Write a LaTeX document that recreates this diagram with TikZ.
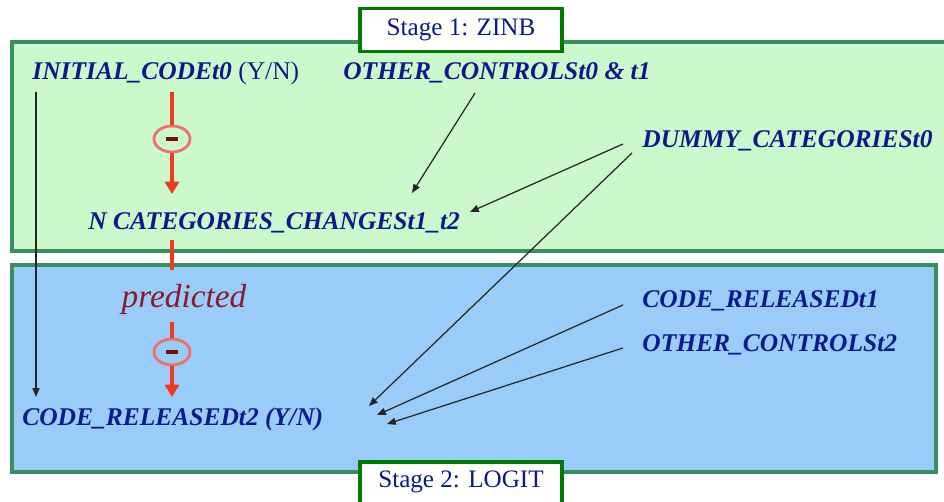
\documentclass[tikz,border=0pt]{standalone}
\usepackage{fontspec}
\setmainfont{Liberation Serif}
\usetikzlibrary{arrows.meta,shapes.geometric,calc}

\definecolor{zinbfill}{HTML}{CCF9CC}
\definecolor{logitfill}{HTML}{99CCF9}
\definecolor{panelframe}{HTML}{3A8F62}
\definecolor{stagegreen}{HTML}{007A00}
\definecolor{varblue}{HTML}{0A1A8C}
\definecolor{effectred}{HTML}{EE3A1E}
\definecolor{signred}{HTML}{F07070}
\definecolor{minusred}{HTML}{7A0A0A}
\definecolor{predred}{HTML}{8B1A2A}

\tikzset{
    varlabel/.style={anchor=base west, inner sep=0pt, text=varblue, font=\fontsize{14.5}{17}\selectfont\bfseries\itshape},
    stagebox/.style={draw=stagegreen, line width=2.2pt, fill=white, text=varblue, minimum width=4.04cm, minimum height=0.86cm, font=\fontsize{14.3}{17}\selectfont},
    panel/.style={line width=2.3pt, draw=panelframe},
    signmark/.style={ellipse, draw=signred, line width=1.6pt, minimum width=0.72cm, minimum height=0.52cm, inner sep=0pt},
    effect/.style={draw=effectred, line width=2.3pt},
    link/.style={draw=black!85, line width=0.7pt, -{Triangle[length=5pt,width=4pt]}},
}

\begin{document}
\begin{tikzpicture}[x=0.02cm, y=-0.02cm]
    \fill[white] (0,0) rectangle (944,502);
    \useasboundingbox (0,0) rectangle (944,502);

    % the two model stages
    \filldraw[panel, fill=zinbfill] (12,42) rectangle (950,251);
    \filldraw[panel, fill=logitfill] (12,265) rectangle (936,472);
    \node[stagebox] (stageone) at (461,30) {Stage 1: ZINB};
    \node[stagebox, anchor=north, text height=0.39cm, text depth=0.5cm] (stagetwo) at (461,460) {Stage 2: LOGIT};

    % variables
    \node[varlabel] (initcode) at (32,80) {INITIAL\_CODEt0 {\mdseries\upshape (Y/N)}};
    \node[varlabel] (othert01) at (343,80) {OTHER\_CONTROLSt0 \& t1};
    \node[varlabel] (dummy) at (642,148) {DUMMY\_CATEGORIESt0};
    \node[varlabel] (ncat) at (88,230) {N CATEGORIES\_CHANGESt1\_t2};
    \node[anchor=base, inner sep=0pt, text=predred, font=\fontsize{19}{22}\selectfont\itshape] (predicted) at (184,308) {predicted};
    \node[varlabel] (crelt1) at (642,308) {CODE\_RELEASEDt1};
    \node[varlabel] (othert2) at (642,352) {OTHER\_CONTROLSt2};
    \node[varlabel] (crelt2) at (22,426) {CODE\_RELEASEDt2 (Y/N)};

    % negative effects
    \node[signmark] (minusA) at (172,139) {\textcolor{minusred}{\rule{6.3pt}{2.8pt}}};
    \node[signmark] (minusB) at (172,352) {\textcolor{minusred}{\rule{6.3pt}{2.8pt}}};
    \coordinate (r1) at (172,92);
    \coordinate (r2) at (172,194);
    \coordinate (r3) at (172,240);
    \coordinate (r4) at (172,270);
    \coordinate (r5) at (172,322);
    \coordinate (r6) at (172,397);
    \draw[effect] (r1) -- (minusA);
    \draw[effect, -{Triangle[length=7pt,width=8pt]}] (minusA) -- (r2);
    \draw[effect] (r3) -- (r4);
    \draw[effect] (r5) -- (minusB);
    \draw[effect, -{Triangle[length=7pt,width=8pt]}] (minusB) -- (r6);

    % covariates
    \coordinate (t0) at (36,397);
    \coordinate (t1) at (412,193);
    \coordinate (t2) at (470,212);
    \coordinate (t3) at (369,406);
    \coordinate (t4) at (377,415);
    \coordinate (t5) at (387,424);
    \draw[link] ($(initcode.base west)+(4,12)$) -- (t0);
    \draw[link] ($(othert01.base west)+(132,13)$) -- (t1);
    \draw[link] ($(dummy.base west)+(-19,-4)$) -- (t2);
    \draw[link] ($(dummy.base west)+(-10,5)$) -- (t3);
    \draw[link] ($(crelt1.base west)+(-19,-3)$) -- (t4);
    \draw[link] ($(othert2.base west)+(-19,-4)$) -- (t5);
\end{tikzpicture}
\end{document}
